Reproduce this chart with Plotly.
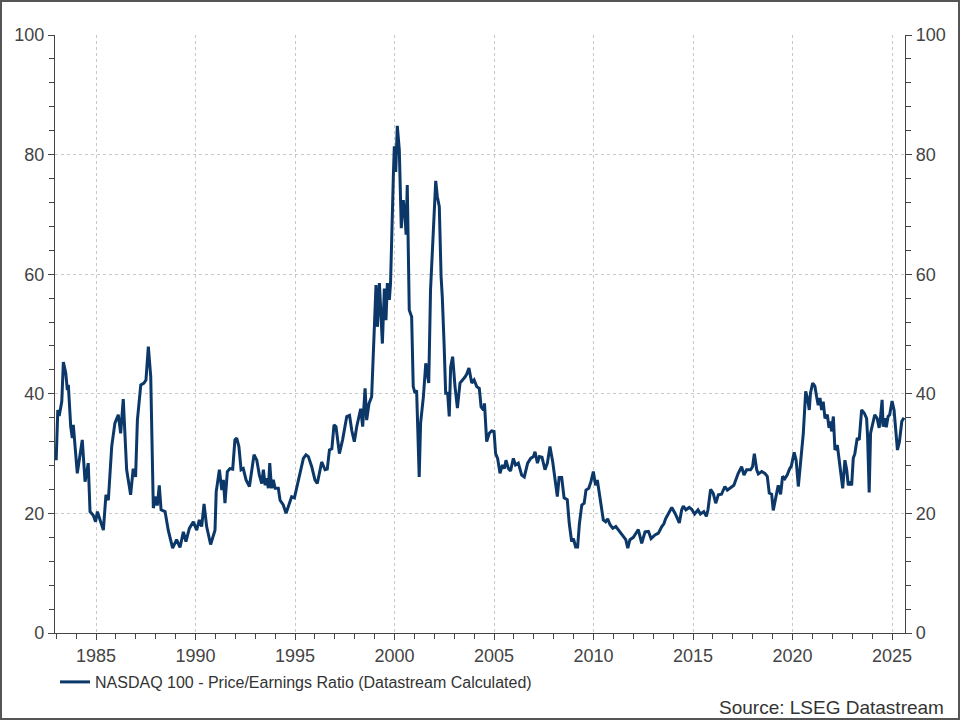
import plotly.graph_objects as go

# Decimal years (x) and NASDAQ 100 P/E values (y)
years = [
    1983.00, 1983.08, 1983.15, 1983.28, 1983.36, 1983.48, 1983.56, 1983.61, 1983.73, 1983.81,
    1983.86, 1984.06, 1984.31, 1984.45, 1984.53, 1984.61, 1984.70, 1984.86, 1984.98, 1985.07,
    1985.37, 1985.50, 1985.62, 1985.79, 1985.95, 1986.12, 1986.24, 1986.37, 1986.54, 1986.74,
    1986.87, 1986.99, 1987.08, 1987.25, 1987.41, 1987.51, 1987.63, 1987.75, 1987.88, 1988.02,
    1988.08, 1988.18, 1988.27, 1988.47, 1988.63, 1988.85, 1989.05, 1989.22, 1989.39, 1989.52,
    1989.69, 1989.89, 1990.06, 1990.19, 1990.31, 1990.43, 1990.56, 1990.76, 1990.98, 1991.04,
    1991.20, 1991.32, 1991.40, 1991.48, 1991.60, 1991.73, 1991.87, 1991.98, 1992.07, 1992.18,
    1992.29, 1992.40, 1992.54, 1992.71, 1992.94, 1993.08, 1993.21, 1993.33, 1993.41, 1993.50,
    1993.58, 1993.66, 1993.73, 1993.82, 1993.91, 1994.00, 1994.16, 1994.25, 1994.41, 1994.55,
    1994.75, 1994.83, 1994.97, 1995.17, 1995.42, 1995.55, 1995.67, 1995.84, 1996.00, 1996.12,
    1996.34, 1996.51, 1996.62, 1996.73, 1996.85, 1996.96, 1997.06, 1997.23, 1997.39, 1997.60,
    1997.74, 1997.85, 1997.98, 1998.10, 1998.23, 1998.30, 1998.40, 1998.52, 1998.60, 1998.72,
    1998.85, 1998.97, 1999.07, 1999.14, 1999.24, 1999.39, 1999.49, 1999.57, 1999.64, 1999.74,
    1999.80, 1999.94, 1999.99, 2000.06, 2000.14, 2000.24, 2000.34, 2000.44, 2000.53, 2000.58,
    2000.64, 2000.74, 2000.86, 2000.94, 2001.03, 2001.11, 2001.24, 2001.31, 2001.45, 2001.57,
    2001.67, 2001.72, 2001.81, 2001.91, 2002.07, 2002.15, 2002.25, 2002.34, 2002.40, 2002.49,
    2002.57, 2002.67, 2002.75, 2002.82, 2002.92, 2003.04, 2003.16, 2003.29, 2003.42, 2003.54,
    2003.63, 2003.74, 2003.88, 2004.00, 2004.13, 2004.26, 2004.35, 2004.47, 2004.52, 2004.63,
    2004.76, 2004.88, 2005.00, 2005.08, 2005.18, 2005.30, 2005.42, 2005.52, 2005.60, 2005.72,
    2005.83, 2005.97, 2006.08, 2006.22, 2006.39, 2006.52, 2006.69, 2006.84, 2006.98, 2007.06,
    2007.18, 2007.28, 2007.41, 2007.56, 2007.68, 2007.81, 2007.95, 2008.07, 2008.18, 2008.27,
    2008.40, 2008.52, 2008.68, 2008.78, 2008.90, 2008.99, 2009.10, 2009.20, 2009.29, 2009.41,
    2009.53, 2009.62, 2009.76, 2009.87, 2009.99, 2010.10, 2010.19, 2010.33, 2010.49, 2010.61,
    2010.71, 2010.83, 2010.97, 2011.12, 2011.25, 2011.39, 2011.50, 2011.62, 2011.72, 2011.83,
    2012.00, 2012.17, 2012.25, 2012.42, 2012.59, 2012.76, 2012.89, 2013.09, 2013.26, 2013.43,
    2013.54, 2013.62, 2013.93, 2014.10, 2014.31, 2014.43, 2014.51, 2014.64, 2014.81, 2014.93,
    2015.08, 2015.25, 2015.37, 2015.54, 2015.67, 2015.75, 2015.88, 2016.01, 2016.14, 2016.27,
    2016.43, 2016.60, 2016.72, 2016.85, 2017.05, 2017.27, 2017.44, 2017.56, 2017.69, 2017.89,
    2017.99, 2018.08, 2018.20, 2018.28, 2018.45, 2018.61, 2018.73, 2018.83, 2018.95, 2019.03,
    2019.15, 2019.28, 2019.40, 2019.50, 2019.61, 2019.73, 2019.86, 2019.94, 2020.08, 2020.18,
    2020.29, 2020.41, 2020.54, 2020.66, 2020.76, 2020.84, 2020.90, 2021.01, 2021.12, 2021.21,
    2021.29, 2021.38, 2021.46, 2021.54, 2021.63, 2021.75, 2021.83, 2021.91, 2021.96, 2022.05,
    2022.13, 2022.25, 2022.35, 2022.43, 2022.52, 2022.63, 2022.72, 2022.80, 2022.89, 2022.97,
    2023.05, 2023.13, 2023.25, 2023.35, 2023.47, 2023.60, 2023.72, 2023.77, 2023.85, 2023.92,
    2024.02, 2024.13, 2024.25, 2024.35, 2024.41, 2024.50, 2024.55, 2024.63, 2024.71, 2024.80,
    2024.88, 2025.00, 2025.10, 2025.17, 2025.27, 2025.37, 2025.49, 2025.60,
]
pe_ratio = [
    28.9, 37.3, 36.3, 38.7, 45.3, 43.5, 40.6, 41.5, 34.5, 32.6,
    34.8, 26.7, 32.3, 25.3, 26.7, 28.4, 20.3, 19.7, 18.6, 20.3,
    17.2, 23.1, 22.2, 31.2, 35.1, 36.5, 33.4, 39.1, 27.3, 23.1,
    27.5, 26.1, 35.6, 41.5, 41.8, 42.3, 47.9, 42.9, 20.9, 22.8,
    21.3, 24.7, 20.6, 20.3, 17.2, 14.2, 15.6, 14.3, 16.9, 15.3,
    17.5, 18.6, 17.2, 18.9, 17.8, 21.6, 17.8, 14.8, 17.2, 23.6,
    27.3, 23.9, 25.6, 21.7, 27.0, 27.5, 27.4, 32.3, 32.6, 31.2,
    27.3, 27.5, 25.6, 24.5, 29.8, 28.9, 26.4, 25.0, 27.3, 24.7,
    25.9, 24.2, 28.4, 24.2, 25.6, 24.2, 24.2, 22.2, 21.4, 20.0,
    22.0, 22.8, 22.6, 25.6, 29.2, 29.8, 29.5, 27.8, 25.6, 25.0,
    28.6, 27.3, 27.4, 30.6, 30.8, 34.8, 34.5, 30.0, 32.3, 36.2,
    36.4, 33.9, 32.0, 34.5, 36.7, 37.5, 34.5, 40.9, 35.6, 38.4,
    39.5, 48.4, 58.2, 51.2, 58.5, 48.4, 57.6, 52.3, 58.5, 55.7,
    58.5, 76.3, 81.4, 77.1, 84.8, 80.8, 67.7, 72.4, 69.6, 66.6,
    74.9, 54.0, 52.9, 41.2, 40.1, 40.6, 26.1, 35.1, 39.5, 45.1,
    42.9, 41.8, 57.4, 64.0, 75.6, 73.0, 71.3, 59.6, 56.2, 48.4,
    40.1, 40.1, 36.2, 44.5, 46.2, 41.2, 37.6, 41.8, 42.3, 42.8,
    43.3, 44.3, 41.8, 42.3, 41.2, 40.9, 37.8, 37.3, 38.4, 32.0,
    33.4, 33.8, 33.7, 30.0, 29.2, 26.7, 28.1, 27.5, 28.9, 27.5,
    27.1, 29.2, 28.1, 28.4, 26.4, 26.1, 28.4, 29.2, 29.5, 30.3,
    28.4, 29.5, 29.4, 27.3, 28.4, 31.2, 28.6, 25.6, 22.8, 26.0,
    26.0, 22.6, 22.3, 18.3, 15.3, 15.8, 14.4, 14.4, 18.3, 21.4,
    21.7, 23.9, 24.2, 25.3, 27.0, 24.7, 25.6, 22.5, 18.9, 18.6,
    19.1, 18.1, 17.5, 17.8, 17.2, 16.7, 16.1, 15.6, 14.2, 15.6,
    16.0, 17.0, 17.3, 15.0, 16.9, 17.0, 15.8, 16.4, 16.7, 17.8,
    18.3, 19.1, 21.0, 20.0, 18.4, 20.6, 21.2, 20.6, 21.0, 20.7,
    19.9, 20.6, 19.9, 20.3, 19.5, 20.6, 24.0, 23.4, 21.7, 23.1,
    23.2, 24.5, 23.9, 24.2, 24.7, 26.7, 27.8, 26.4, 27.3, 27.3,
    27.8, 30.0, 27.3, 26.6, 27.0, 26.7, 26.2, 23.4, 23.2, 20.5,
    22.7, 24.7, 23.2, 26.2, 25.8, 26.4, 27.5, 27.9, 30.2, 28.9,
    24.5, 29.5, 33.4, 40.4, 39.1, 37.3, 40.1, 41.8, 41.3, 39.5,
    38.1, 39.3, 37.3, 38.7, 35.9, 36.5, 34.3, 35.4, 33.7, 36.2,
    30.6, 31.4, 28.4, 26.7, 24.2, 28.9, 27.3, 24.7, 25.3, 24.7,
    29.2, 30.0, 32.6, 32.3, 37.3, 36.8, 35.9, 32.9, 23.5, 33.4,
    34.8, 36.5, 35.9, 34.3, 35.7, 39.0, 34.5, 35.9, 34.4, 36.2,
    36.5, 38.8, 37.3, 34.8, 30.6, 32.0, 35.4, 36.0,
]

x_tick_vals = [1985, 1990, 1995, 2000, 2005, 2010, 2015, 2020, 2025]
x_tick_text = ["1985", "1990", "1995", "2000", "2005", "2010", "2015", "2020", "2025"]
y_tick_vals = [0, 20, 40, 60, 80, 100]

series_name = "NASDAQ 100 - Price/Earnings Ratio (Datastream Calculated)"
source_text = "Source: LSEG Datastream"

LINE_COLOR = "#0b3868"
AXIS_COLOR = "#444444"
GRID_COLOR = "#c8c8c8"
FONT = "Liberation Sans, Arial, sans-serif"

fig = go.Figure()
fig.add_trace(go.Scatter(
    x=years, y=pe_ratio, mode="lines", name=series_name,
    line=dict(color=LINE_COLOR, width=3), showlegend=True,
))
# invisible twin on the right axis so it renders
fig.add_trace(go.Scatter(
    x=years, y=pe_ratio, mode="lines", yaxis="y2", opacity=0,
    showlegend=False, hoverinfo="skip", line=dict(color=LINE_COLOR, width=1),
))

W, H = 960, 720
ml, mr, mt, mb = 55, 55, 35, 87
pw, ph = W - ml - mr, H - mt - mb

common_y = dict(
    range=[0, 100], tickvals=y_tick_vals, showgrid=True, gridcolor=GRID_COLOR,
    griddash="dot", gridwidth=1, zeroline=False, showline=True, linecolor=AXIS_COLOR,
    linewidth=1.2, ticks="outside", ticklen=6, tickwidth=1, tickcolor=AXIS_COLOR,
    tickfont=dict(family=FONT, size=18, color="#444444"),
    minor=dict(dtick=4, tick0=0, ticks="outside", ticklen=5, tickcolor=AXIS_COLOR, showgrid=False),
)

fig.update_layout(
    width=W, height=H,
    margin=dict(l=ml, r=mr, t=mt, b=mb),
    paper_bgcolor="white", plot_bgcolor="white",
    font=dict(family=FONT, color="#333333"),
    xaxis=dict(
        range=[1982.94, 2025.65], tickvals=x_tick_vals, ticktext=x_tick_text,
        showgrid=True, gridcolor=GRID_COLOR, griddash="dot", gridwidth=1,
        zeroline=False, showline=True, linecolor=AXIS_COLOR, linewidth=1.2,
        ticks="outside", ticklen=6, tickwidth=1, tickcolor=AXIS_COLOR,
        tickfont=dict(family=FONT, size=18, color="#444444"),
        minor=dict(dtick=1, tick0=1985, ticks="outside", ticklen=5, tickcolor=AXIS_COLOR, showgrid=False),
    ),
    yaxis=dict(side="left", **common_y),
    yaxis2=dict(side="right", overlaying="y", **{**common_y, "showgrid": False}),
    legend=dict(
        x=0.0, y=-(682 - (mt + ph)) / ph, xanchor="left", yanchor="middle",
        orientation="h", bgcolor="rgba(0,0,0,0)",
        font=dict(family=FONT, size=16, color="#333333"),
        itemwidth=30,
    ),
    annotations=[dict(
        text=source_text, xref="paper", yref="paper",
        x=(946 - ml) / pw, y=-(707 - (mt + ph)) / ph,
        xanchor="right", yanchor="middle", showarrow=False,
        font=dict(family=FONT, size=19, color="#333333"),
    )],
    shapes=[dict(
        type="rect", xref="paper", yref="paper",
        x0=(-ml + 1) / pw, x1=1 + (mr - 1) / pw,
        y0=(-mb + 1) / ph, y1=1 + (mt - 1) / ph,
        line=dict(color="#555555", width=2), fillcolor="rgba(0,0,0,0)", layer="below",
    )],
    hovermode=False,
)

fig.write_html("out.html")
